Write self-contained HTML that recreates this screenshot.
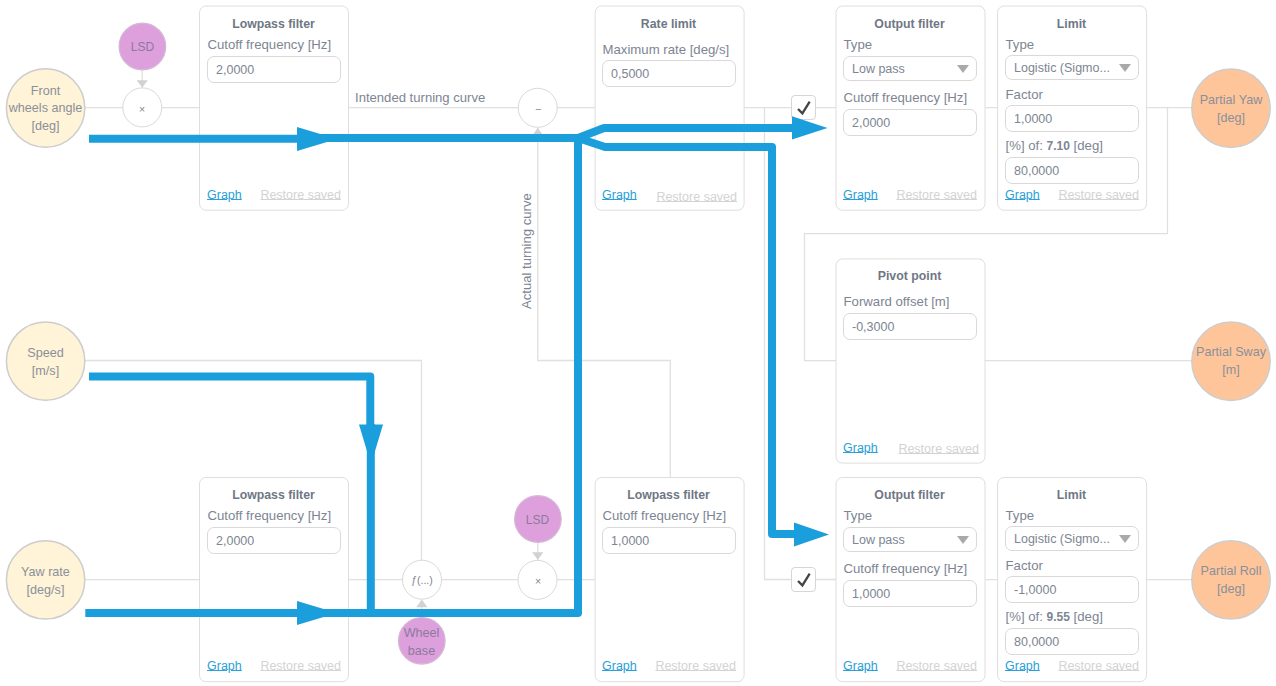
<!DOCTYPE html>
<html><head><meta charset="utf-8">
<style>
*{box-sizing:border-box;margin:0;padding:0}
html,body{width:1276px;height:686px;background:#fff;overflow:hidden}
body{position:relative;font-family:"Liberation Sans",sans-serif;font-size:13px;color:#7d8592}
svg.l{position:absolute;left:0;top:0;width:1276px;height:686px}
.card{position:absolute;width:149px;height:205px;border:1px solid transparent}
.card .t{position:absolute;left:0;right:0;top:8.5px;text-align:center;font-weight:bold;font-size:12.3px;color:#6f7785;line-height:16px}
.card .lb{position:absolute;left:7.5px;font-size:13.2px;line-height:16px;white-space:nowrap;color:#7d8592}
.card .in{position:absolute;left:7px;width:134px;height:27px;border:1px solid #d9d9d9;border-radius:7px;font-size:12.5px;line-height:27px;padding-left:8px;white-space:nowrap;color:#7d8592;background:#fff}
.card .in.se{height:25px;line-height:25px}
.card .g{position:absolute;left:7px;font-size:12.5px;line-height:16px;color:#2a9fd8;text-decoration:underline;text-underline-offset:0px}
.card .r{position:absolute;font-size:12.5px;line-height:16px;color:#d3d3d3;text-decoration:underline;text-underline-offset:0px;white-space:nowrap}
.card .in i{position:absolute;right:7.5px;top:7.5px;width:0;height:0;border-left:6px solid transparent;border-right:6px solid transparent;border-top:8.5px solid #a9a9a9}
.card .lb b{font-size:12px}
.c{position:absolute;display:flex;align-items:center;justify-content:center;text-align:center;font-size:12.6px;line-height:17.6px;color:#8a9099;padding-top:1px}
.c.i{width:81px;height:81px}
.c.o{width:80px;height:80px}
.c.p{width:47px;height:47px;color:#8c7a9c}
.c.w{width:40px;height:40px;font-size:10.5px;color:#7d8592}
.cb{position:absolute;width:25px;height:25px;border:1px solid #d6d6d6;border-radius:4px;background:#fff}
.tx{position:absolute;font-size:13.1px;line-height:16px;white-space:nowrap;color:#7d8592}
</style></head><body>
<svg class="l" viewBox="0 0 1276 686">
<g fill="none" stroke="#e0e0e0" stroke-width="1.3">
<path d="M85 107.7H200M348 107.7H595M744 107.7H836M985 107.7H998M1146 107.7H1192"/>
<path d="M764.5 107V579.5H836"/>
<path d="M1167.5 107V233.7H804.5V360.7H836M985 360.7H1192"/>
<path d="M537.7 128V360.5H670.3V478"/>
<path d="M85 360.5H421.5V560"/>
<path d="M85 579.6H200M348 579.6H595M985 579.6H998M1146 579.6H1192"/>
<path d="M142.2 70V88M537.7 542V560M421.6 600V618"/>
</g>
<g fill="#d2d2d2">
<path d="M136.6 80.2h11.3l-5.65 7.4z"/>
<path d="M532.1 552.3h11.3l-5.65 7.4z"/>
<path d="M416.2 607.2h11.3l-5.65-7.6z"/>
<path d="M532.1 135.5h11.3l-5.65-7.6z"/>
</g>
<g fill="#fff" stroke="#dedede" stroke-width="1">
<rect x="199.5" y="6" width="149" height="204.2" rx="6.5"/>
<rect x="595.1" y="6" width="149" height="204.2" rx="6.5"/>
<rect x="836" y="6" width="149" height="204.2" rx="6.5"/>
<rect x="997.6" y="6" width="149" height="204.2" rx="6.5"/>
<rect x="836" y="258.9" width="149" height="204.2" rx="6.5"/>
<rect x="199.5" y="477.5" width="149" height="204.2" rx="6.5"/>
<rect x="595.1" y="477.5" width="149" height="204.2" rx="6.5"/>
<rect x="836" y="477.5" width="149" height="204.2" rx="6.5"/>
<rect x="997.6" y="477.5" width="149" height="204.2" rx="6.5"/>
</g>
</svg>
<div class="card" style="left:199px;top:6px"><div class="t">Lowpass filter</div><div class="lb" style="top:30px">Cutoff frequency [Hz]</div><div class="in" style="top:49px">2,0000</div><div class="g" style="top:180px">Graph</div><div class="r" style="top:180px;right:6px">Restore saved</div></div>
<div class="card" style="left:594px;top:6px"><div class="t">Rate limit</div><div class="lb" style="top:34.5px">Maximum rate [deg/s]</div><div class="in" style="top:53px">0,5000</div><div class="g" style="top:180px">Graph</div><div class="r" style="top:182px;right:5px">Restore saved</div></div>
<div class="card" style="left:835px;top:6px"><div class="t">Output filter</div><div class="lb" style="top:30px">Type</div><div class="in se" style="top:49px">Low pass<i></i></div><div class="lb" style="top:83px">Cutoff frequency [Hz]</div><div class="in" style="top:102px">2,0000</div><div class="g" style="top:180px">Graph</div><div class="r" style="top:180px;right:6px">Restore saved</div></div>
<div class="card" style="left:997px;top:6px"><div class="t">Limit</div><div class="lb" style="top:30px">Type</div><div class="in se" style="top:48px">Logistic (Sigmo...<i></i></div><div class="lb" style="top:80px">Factor</div><div class="in" style="top:98px">1,0000</div><div class="lb" style="top:131px">[%] of: <b>7.10</b> [deg]</div><div class="in" style="top:150px">80,0000</div><div class="g" style="top:180px">Graph</div><div class="r" style="top:180px;right:6px">Restore saved</div></div>
<div class="card" style="left:835px;top:258px"><div class="t">Pivot point</div><div class="lb" style="top:35px">Forward offset [m]</div><div class="in" style="top:54px">-0,3000</div><div class="g" style="top:181px">Graph</div><div class="r" style="top:182px;right:4px">Restore saved</div></div>
<div class="card" style="left:199px;top:477px"><div class="t">Lowpass filter</div><div class="lb" style="top:30px">Cutoff frequency [Hz]</div><div class="in" style="top:49px">2,0000</div><div class="g" style="top:180px">Graph</div><div class="r" style="top:180px;right:6px">Restore saved</div></div>
<div class="card" style="left:594px;top:477px"><div class="t">Lowpass filter</div><div class="lb" style="top:30px">Cutoff frequency [Hz]</div><div class="in" style="top:49px">1,0000</div><div class="g" style="top:180px">Graph</div><div class="r" style="top:180px;right:6px">Restore saved</div></div>
<div class="card" style="left:835px;top:477px"><div class="t">Output filter</div><div class="lb" style="top:30px">Type</div><div class="in se" style="top:49px">Low pass<i></i></div><div class="lb" style="top:83px">Cutoff frequency [Hz]</div><div class="in" style="top:102px">1,0000</div><div class="g" style="top:180px">Graph</div><div class="r" style="top:180px;right:6px">Restore saved</div></div>
<div class="card" style="left:997px;top:477px"><div class="t">Limit</div><div class="lb" style="top:30px">Type</div><div class="in se" style="top:48px">Logistic (Sigmo...<i></i></div><div class="lb" style="top:80px">Factor</div><div class="in" style="top:98px">-1,0000</div><div class="lb" style="top:131px">[%] of: <b>9.55</b> [deg]</div><div class="in" style="top:150px">80,0000</div><div class="g" style="top:180px">Graph</div><div class="r" style="top:180px;right:6px">Restore saved</div></div>
<svg class="l" viewBox="0 0 1276 686">
<g stroke="#cdcdcd" stroke-width="1.5">
<g fill="#fff3d8"><circle cx="45.6" cy="108" r="39.2"/><circle cx="45.6" cy="361.1" r="39.2"/><circle cx="45.6" cy="579.9" r="39.2"/></g>
<g fill="#fec59b"><circle cx="1231" cy="108.3" r="39.2"/><circle cx="1231" cy="361.2" r="39.2"/><circle cx="1231" cy="579.9" r="39.2"/></g>
<g fill="#dda0dd" stroke="#d6b6d6" stroke-width="1.2"><circle cx="142.4" cy="46.5" r="23.3"/><circle cx="537.9" cy="519" r="23.3"/><circle cx="421.8" cy="640.8" r="23.3"/></g>
<g fill="#fff" stroke="#d9d9d9" stroke-width="1"><circle cx="142.3" cy="107.4" r="19.5"/><circle cx="537.7" cy="107.8" r="19.5"/><circle cx="537.5" cy="579.9" r="19.5"/><circle cx="422" cy="579.7" r="19.5"/></g>
</g>
</svg>
<div class="c i" style="left:5px;top:68px">Front<br>wheels angle<br>[deg]</div>
<div class="c i" style="left:5px;top:321.5px">Speed<br>[m/s]</div>
<div class="c i" style="left:5px;top:540.7px">Yaw rate<br>[deg/s]</div>
<div class="c o" style="left:1191px;top:69px">Partial Yaw<br>[deg]</div>
<div class="c o" style="left:1191px;top:321.5px">Partial Sway<br>[m]</div>
<div class="c o" style="left:1191px;top:540.5px">Partial Roll<br>[deg]</div>
<div class="c p" style="left:119px;top:24px;font-size:12px">LSD</div>
<div class="c p" style="left:514px;top:497px;font-size:12px">LSD</div>
<div class="c p" style="left:398px;top:619px;font-size:12.6px">Wheel<br>base</div>
<div class="c w" style="left:122px;top:89px">×</div>
<div class="c w" style="left:518px;top:89px">−</div>
<div class="c w" style="left:518px;top:561px">×</div>
<div class="c w" style="left:402px;top:560px">ƒ(...)</div>
<div class="cb" style="left:791px;top:95px"><svg width="23" height="23" viewBox="0 0 23 23"><path d="M6 13L10.4 17.4L17.7 5.7" fill="none" stroke="#444" stroke-width="2.3"/></svg></div>
<div class="cb" style="left:791px;top:567px"><svg width="23" height="23" viewBox="0 0 23 23"><path d="M6 13L10.4 17.4L17.7 5.7" fill="none" stroke="#444" stroke-width="2.3"/></svg></div>
<div class="tx" style="left:355px;top:90px">Intended turning curve</div>
<div class="tx" style="left:527px;top:309px;transform-origin:0 0;transform:rotate(-90deg);margin-left:-8px">Actual turning curve</div>
<svg class="l" viewBox="0 0 1276 686">
<g fill="none" stroke="#1b9edc" stroke-width="8" stroke-linejoin="round">
<path d="M89 138.8H298M297 138.1H578"/>
<path d="M578 138L604 128H795"/>
<path d="M578 138L605 147H772V534H796" />
<path d="M578 138V613H85.3"/>
<path d="M89 376.4H370.3V425M370.8 424V613"/>
</g>
<g fill="#1b9edc">
<path d="M297 127v24l40-12z"/>
<path d="M792 116.3v23.2l35.5-11.5z"/>
<path d="M794 522.5v24l35-12z"/>
<path d="M297 601v24l40-12z"/>
<path d="M359 424.5h24l-12 40z"/>
</g>
</svg>
</body></html>
